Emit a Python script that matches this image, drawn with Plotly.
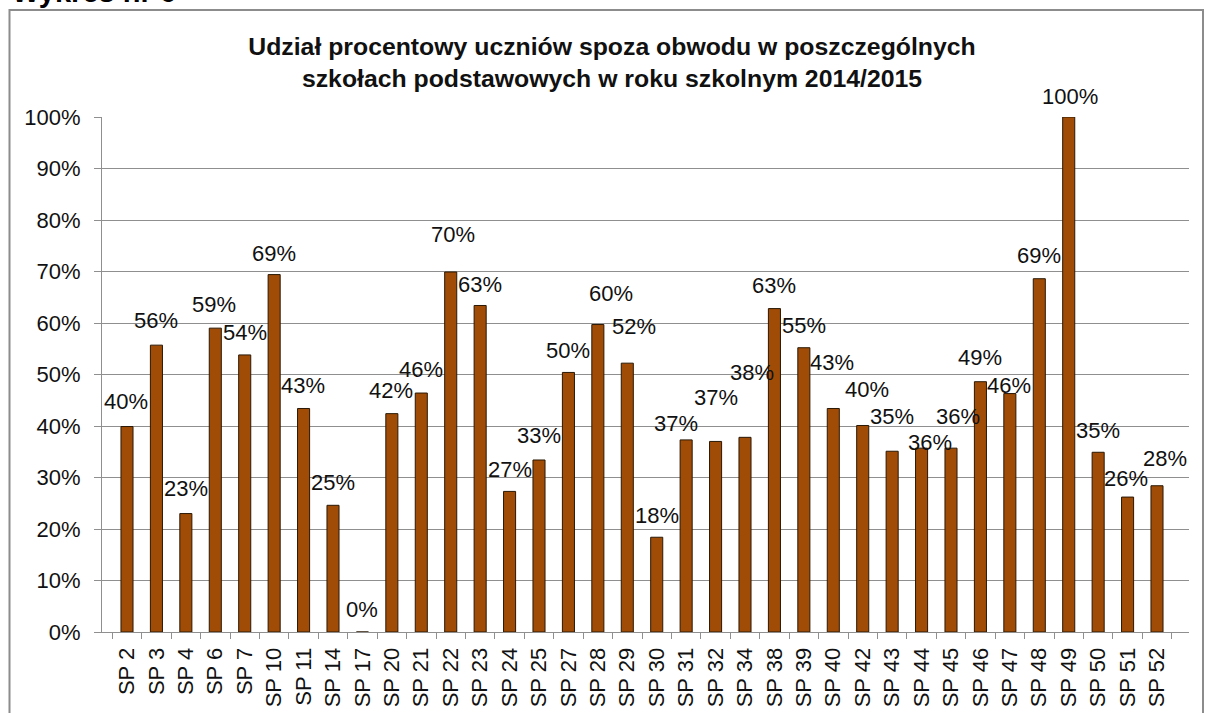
import plotly.graph_objects as go

# ---------------- data ----------------
schools = ["SP 2", "SP 3", "SP 4", "SP 6", "SP 7", "SP 10", "SP 11", "SP 14", "SP 17",
           "SP 20", "SP 21", "SP 22", "SP 23", "SP 24", "SP 25", "SP 27", "SP 28", "SP 29",
           "SP 30", "SP 31", "SP 32", "SP 34", "SP 38", "SP 39", "SP 40", "SP 42", "SP 43",
           "SP 44", "SP 45", "SP 46", "SP 47", "SP 48", "SP 49", "SP 50", "SP 51", "SP 52"]
share_pct = [39.9, 55.7, 23.0, 59.0, 53.8, 69.4, 43.4, 24.6, 0.0,
             42.4, 46.4, 69.9, 63.4, 27.3, 33.4, 50.4, 59.7, 52.2,
             18.4, 37.3, 37.0, 37.8, 62.8, 55.2, 43.4, 40.1, 35.1,
             35.7, 35.7, 48.6, 46.3, 68.6, 100.0, 34.9, 26.2, 28.4]
y_ticks = [0, 10, 20, 30, 40, 50, 60, 70, 80, 90, 100]
y_tick_labels = [f"{t}%" for t in y_ticks]
title_lines = ["Udział procentowy uczniów spoza obwodu w poszczególnych",
               "szkołach podstawowych w roku szkolnym 2014/2015"]
caption = "Wykres nr 6"

# ---------------- label placement (pixel shifts from bar top, as in source) ----------------
label_dx = [-1, 0, 0, -1, 0, 0, -1, 0, 0,
            -1, 0, 2, 0, 0, 0, 0, 13, 7,
            0, -10, 0, 7, 0, 0, -1, 4, 0,
            8, 7, 0, -1, 0, 1, 0, -2, 8]
label_dy = [25, 25, 25, 24, 22, 21, 23, 23, 23,
            23, 24, 38, 21, 22, 24, 22, 31, 37,
            22, 16, 44, 65, 23, 22, 46, 36, 35,
            6, 32, 24, 8, 23, 21, 22, 19, 27]

# ---------------- layout geometry ----------------
W, H = 1206, 713
ML, MR, MT, MB = 102, 17, 117, 81
PW, PH = W - ML - MR, H - MT - MB


def px_x(px):
    return (px - ML) / PW


def px_y(py):
    return (H - MB - py) / PH


FONT = "Liberation Sans, Arial, sans-serif"
BAR = "#A04C06"
GRID = "#8f8f8f"
TXT = "#111111"

fig = go.Figure()
fig.add_trace(go.Bar(
    x=schools, y=share_pct, width=0.41,
    marker=dict(color=BAR, line=dict(color="#2a1805", width=1)),
    hoverinfo="x+y", showlegend=False,
))

annotations = []
for s, v, dx, dy in zip(schools, share_pct, label_dx, label_dy):
    annotations.append(dict(
        x=s, y=v, xref="x", yref="y", text=f"{round(v)}%", showarrow=False,
        xanchor="center", yanchor="middle", xshift=dx, yshift=dy,
        font=dict(family=FONT, size=22, color=TXT),
    ))

annotations.append(dict(
    x=px_x(10), y=px_y(10), xref="paper", yref="paper", text=f"<b>{caption}</b>",
    showarrow=False, xanchor="left", yanchor="bottom",
    font=dict(family=FONT, size=29, color="#000000"),
))

fig.update_layout(
    width=W, height=H,
    margin=dict(l=ML, r=MR, t=MT, b=MB, pad=0, autoexpand=False),
    paper_bgcolor="white", plot_bgcolor="white",
    title=dict(text="<b>" + "<br>".join(title_lines) + "</b>",
               x=612 / W, xanchor="center", xref="container",
               y=1 - 55 / H, yanchor="top", yref="container",
               font=dict(family=FONT, size=24.8, color=TXT)),
    font=dict(family=FONT, size=22, color=TXT),
    annotations=annotations,
    shapes=[dict(type="rect", xref="paper", yref="paper",
                 x0=px_x(9.5), x1=px_x(1203), y0=px_y(730), y1=px_y(10),
                 line=dict(color="#8c8c8c", width=2), layer="below")],
    bargap=0.59,
)

fig.update_xaxes(
    type="category", tickangle=-90, tickson="boundaries", automargin=False,
    ticks="outside", ticklen=6, tickcolor=GRID, tickwidth=1,
    showline=True, linecolor=GRID, linewidth=1, showgrid=False,
    ticklabelstandoff=6,
    tickfont=dict(family=FONT, size=22, color=TXT),
)
fig.update_yaxes(
    range=[0, 100], tickvals=y_ticks, ticktext=y_tick_labels, automargin=False,
    ticks="outside", ticklen=7, tickcolor=GRID, tickwidth=1,
    showline=True, linecolor=GRID, linewidth=1,
    showgrid=True, gridcolor=GRID, gridwidth=1.2, zeroline=False,
    ticklabelstandoff=9,
    tickfont=dict(family=FONT, size=22, color=TXT),
)

fig.write_html("out.html", config={"displayModeBar": False},
               post_script="document.body.style.margin='0';document.body.style.overflow='hidden';")
